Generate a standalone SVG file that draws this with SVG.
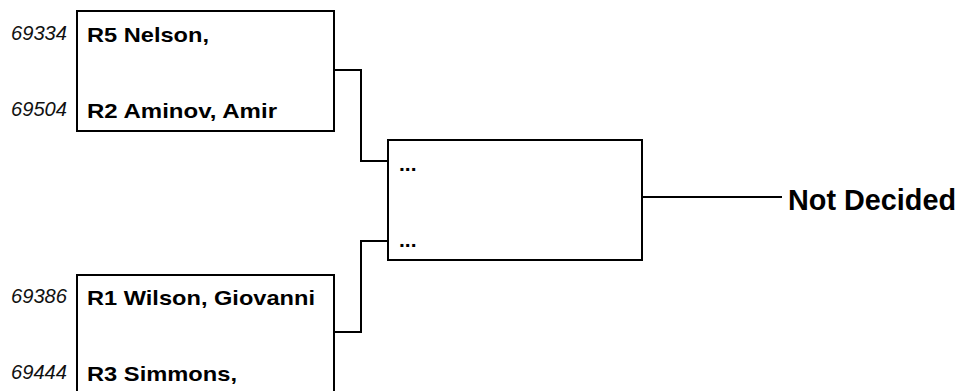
<svg xmlns="http://www.w3.org/2000/svg" width="959" height="391" viewBox="0 0 959 391">
<style>
.box{fill:#fff;stroke:#000;stroke-width:2}
.conn{fill:none;stroke:#000;stroke-width:2}
.seed{font-family:"Liberation Sans",Arial,sans-serif;font-style:italic;font-size:20px;fill:#111}
.name{font-family:"Liberation Sans",Arial,sans-serif;font-weight:bold;font-size:21px;fill:#000}
.res{font-family:"Liberation Sans",Arial,sans-serif;font-weight:bold;font-size:29px;fill:#000}
</style>
<rect width="959" height="391" fill="#fff"/>
<g id="connectors">
<polyline class="conn" points="334,70 361,70 361,161 388,161"/>
<polyline class="conn" points="334,332 361,332 361,241 388,241"/>
<line class="conn" x1="636" y1="197" x2="782" y2="197"/>
</g>
<g id="match1">
<rect class="box" x="77" y="11" width="257" height="120"/>
<text class="seed" x="11" y="39.5" textLength="56" lengthAdjust="spacingAndGlyphs">69334</text>
<text class="name" x="87" y="41.7" textLength="122" lengthAdjust="spacingAndGlyphs">R5 Nelson,</text>
<text class="seed" x="11" y="115.5" textLength="56" lengthAdjust="spacingAndGlyphs">69504</text>
<text class="name" x="87" y="117.7" textLength="190" lengthAdjust="spacingAndGlyphs">R2 Aminov, Amir</text>
</g>
<g id="match2">
<rect class="box" x="77" y="275" width="257" height="120"/>
<text class="seed" x="11" y="302.5" textLength="56" lengthAdjust="spacingAndGlyphs">69386</text>
<text class="name" x="87" y="305" textLength="228" lengthAdjust="spacingAndGlyphs">R1 Wilson, Giovanni</text>
<text class="seed" x="11" y="378.5" textLength="56" lengthAdjust="spacingAndGlyphs">69444</text>
<text class="name" x="87" y="380.5" textLength="150" lengthAdjust="spacingAndGlyphs">R3 Simmons,</text>
</g>
<g id="final">
<rect class="box" x="388" y="140" width="254" height="120"/>
<text class="name" x="399" y="171">...</text>
<text class="name" x="399" y="247">...</text>
</g>
<g id="result">
<text class="res" x="788" y="210" textLength="168" lengthAdjust="spacingAndGlyphs">Not Decided</text>
</g>
</svg>
